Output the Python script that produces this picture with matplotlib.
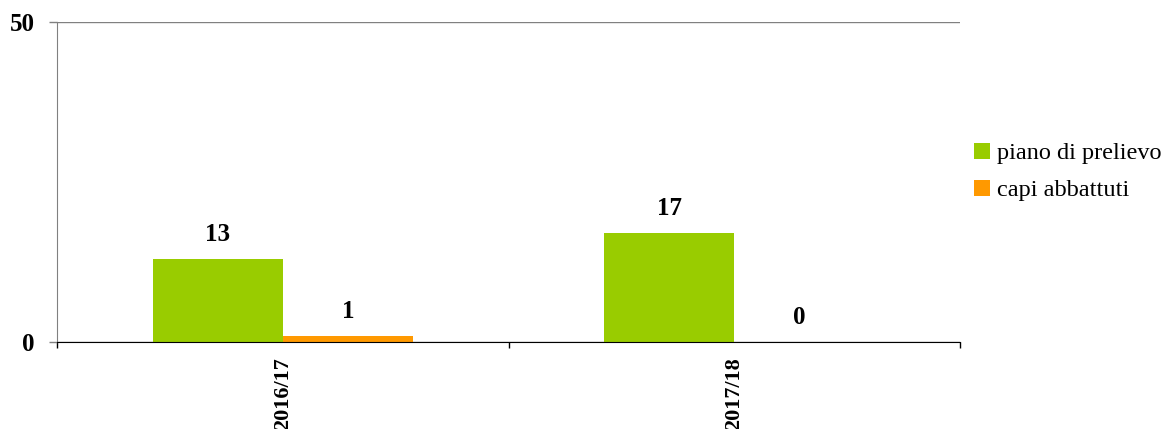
import numpy as np
import matplotlib.pyplot as plt

# dati
stagioni = ["2016/17", "2017/18"]
piano_prelievo = [13, 17]
capi_abbattuti = [1, 0]
serie_nomi = ["piano di prelievo", "capi abbattuti"]
colori = ["#99CC00", "#FF9900"]

plt.rcParams['font.family'] = ['Liberation Serif', 'DejaVu Serif']

fig = plt.figure(figsize=(11.67, 4.29), dpi=100)
ax = fig.add_axes([57/1167, 87/429, 903/1167, 320/429])

x = np.arange(len(stagioni))
w = 0.288
b1 = ax.bar(x - w/2, piano_prelievo, w, color=colori[0], label=serie_nomi[0], zorder=3)
b2 = ax.bar(x + w/2, capi_abbattuti, w, color=colori[1], label=serie_nomi[1], zorder=3)

# etichette valori
for bars in (b1, b2):
    for r in bars:
        ax.annotate(f"{int(r.get_height())}",
                    (r.get_x() + r.get_width()/2, r.get_height()),
                    xytext=(0, 13), textcoords='offset points',
                    ha='center', va='baseline', fontsize=18, fontweight='bold')

ax.set_xlim(-0.5, len(stagioni) - 0.5)
ax.set_ylim(0, 50)
ax.set_yticks([0, 50])
ax.set_yticklabels(["0", "50"], fontsize=18, fontweight='bold')
ax.set_xticks(x)
ax.set_xticklabels(stagioni, rotation=90, fontsize=16, fontweight='bold')
ax.set_xticks(np.arange(-0.5, len(stagioni)), minor=True)
ax.tick_params(axis='x', which='major', length=0, pad=11)
ax.tick_params(axis='x', which='minor', length=4.5, color='black', width=1)
ax.tick_params(axis='y', length=6, color='#808080', width=1, pad=10)
ax.yaxis.get_major_ticks()[0].tick1line.set_color('black')

ax.yaxis.grid(True, color='#808080', lw=1, zorder=0)
ax.spines['top'].set_visible(False)
ax.spines['right'].set_visible(False)
ax.spines['left'].set_color('#808080')
ax.spines['bottom'].set_color('black')
ax.spines['bottom'].set_zorder(4)

fig.legend(handles=[b1, b2], labels=serie_nomi, loc='center left',
           bbox_to_anchor=(974/1167, 0.599), frameon=False, fontsize=17.5,
           handlelength=0.65, handleheight=0.65, handletextpad=0.3,
           labelspacing=0.62, borderpad=0, borderaxespad=0)

plt.savefig("out.png", dpi=100)
